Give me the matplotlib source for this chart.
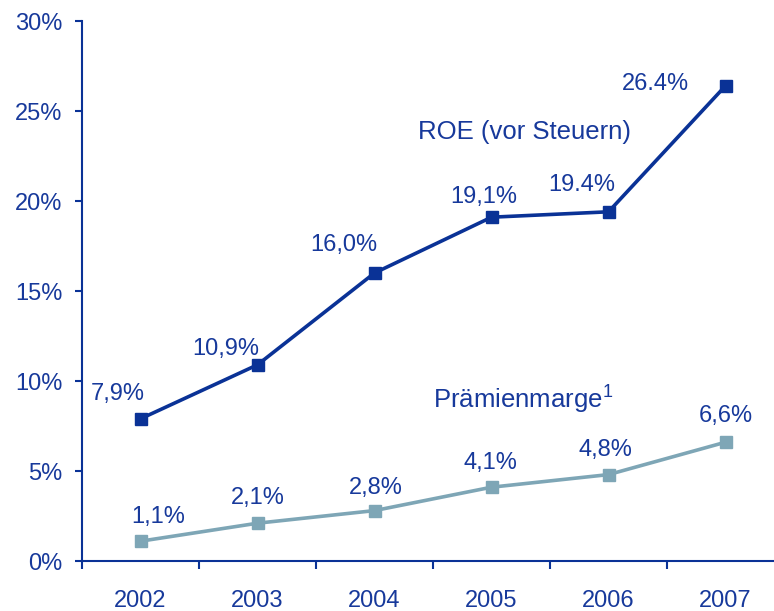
import matplotlib
matplotlib.use("Agg")
import matplotlib.pyplot as plt
from matplotlib.ticker import FuncFormatter

years = ["2002", "2003", "2004", "2005", "2006", "2007"]
roe = [7.9, 10.9, 16.0, 19.1, 19.4, 26.4]
roe_labels = ["7,9%", "10,9%", "16,0%", "19,1%", "19.4%", "26.4%"]
margin = [1.1, 2.1, 2.8, 4.1, 4.8, 6.6]
margin_labels = ["1,1%", "2,1%", "2,8%", "4,1%", "4,8%", "6,6%"]

TEXT = "#17399B"
ROE_C = "#0A3296"
MARGIN_C = "#7EA6B6"
FS = 17
FS_SERIES = 18.5

plt.rcParams["font.family"] = ["Liberation Sans", "DejaVu Sans"]
plt.rcParams["mathtext.fontset"] = "custom"
plt.rcParams["mathtext.rm"] = "Liberation Sans"
plt.rcParams["mathtext.default"] = "rm"

W, H = 774, 611
fig = plt.figure(figsize=(W / 100, H / 100), dpi=100)
left, right, bottom, top = 82, 784, 611 - 561, 611 - 21
ax = fig.add_axes([left / W, bottom / H, (right - left) / W, (top - bottom) / H])

x = list(range(len(years)))
ax.plot(x, roe, color=ROE_C, lw=2.6, marker="s", ms=8, zorder=3)
ax.plot(x, margin, color=MARGIN_C, lw=2.6, marker="s", ms=8, zorder=3)

roe_off = [(-23, 25), (-32, 16), (-31, 28), (-8, 20), (-27, 27), (-70, 2)]
margin_off = [(18, 24), (0, 25), (1, 23), (-1, 24), (-3, 25), (0, 26)]
for i, (v, s, o) in enumerate(zip(roe, roe_labels, roe_off)):
    ax.annotate(s, xy=(i, v), xytext=o, textcoords="offset pixels",
                ha="center", va="center", fontsize=FS, color=TEXT)
for i, (v, s, o) in enumerate(zip(margin, margin_labels, margin_off)):
    ax.annotate(s, xy=(i, v), xytext=o, textcoords="offset pixels",
                ha="center", va="center", fontsize=FS, color=TEXT)

ax.text(524 / W, 1 - 132 / H, "ROE (vor Steuern)", transform=fig.transFigure,
        ha="center", va="center", fontsize=FS_SERIES, color=TEXT)
ax.text(433 / W, 1 - 400 / H, "Prämienmarge$^{1}$", transform=fig.transFigure,
        ha="left", va="center", fontsize=FS_SERIES, color=TEXT)

ax.set_xlim(-0.5, 5.5)
ax.set_ylim(0, 30)
ax.set_yticks([0, 5, 10, 15, 20, 25, 30])
ax.yaxis.set_major_formatter(FuncFormatter(lambda v, p: f"{int(v)}%"))
ax.set_xticks([i - 0.5 for i in range(7)])
ax.set_xticklabels([""] * 7)
ax.set_xticks(x, minor=True)
ax.set_xticklabels(years, minor=True)

for s in ["top", "right"]:
    ax.spines[s].set_visible(False)
for s in ["left", "bottom"]:
    ax.spines[s].set_color(ROE_C)
    ax.spines[s].set_linewidth(1.5)

ax.tick_params(axis="y", colors=ROE_C, labelcolor=TEXT, labelsize=FS,
               length=5, width=1.5, pad=9)
ax.tick_params(axis="x", which="major", colors=ROE_C, length=6, width=1.5)
ax.tick_params(axis="x", which="minor", length=0, labelcolor=TEXT,
               labelsize=FS, pad=21)

fig.savefig("out.png", dpi=100)
